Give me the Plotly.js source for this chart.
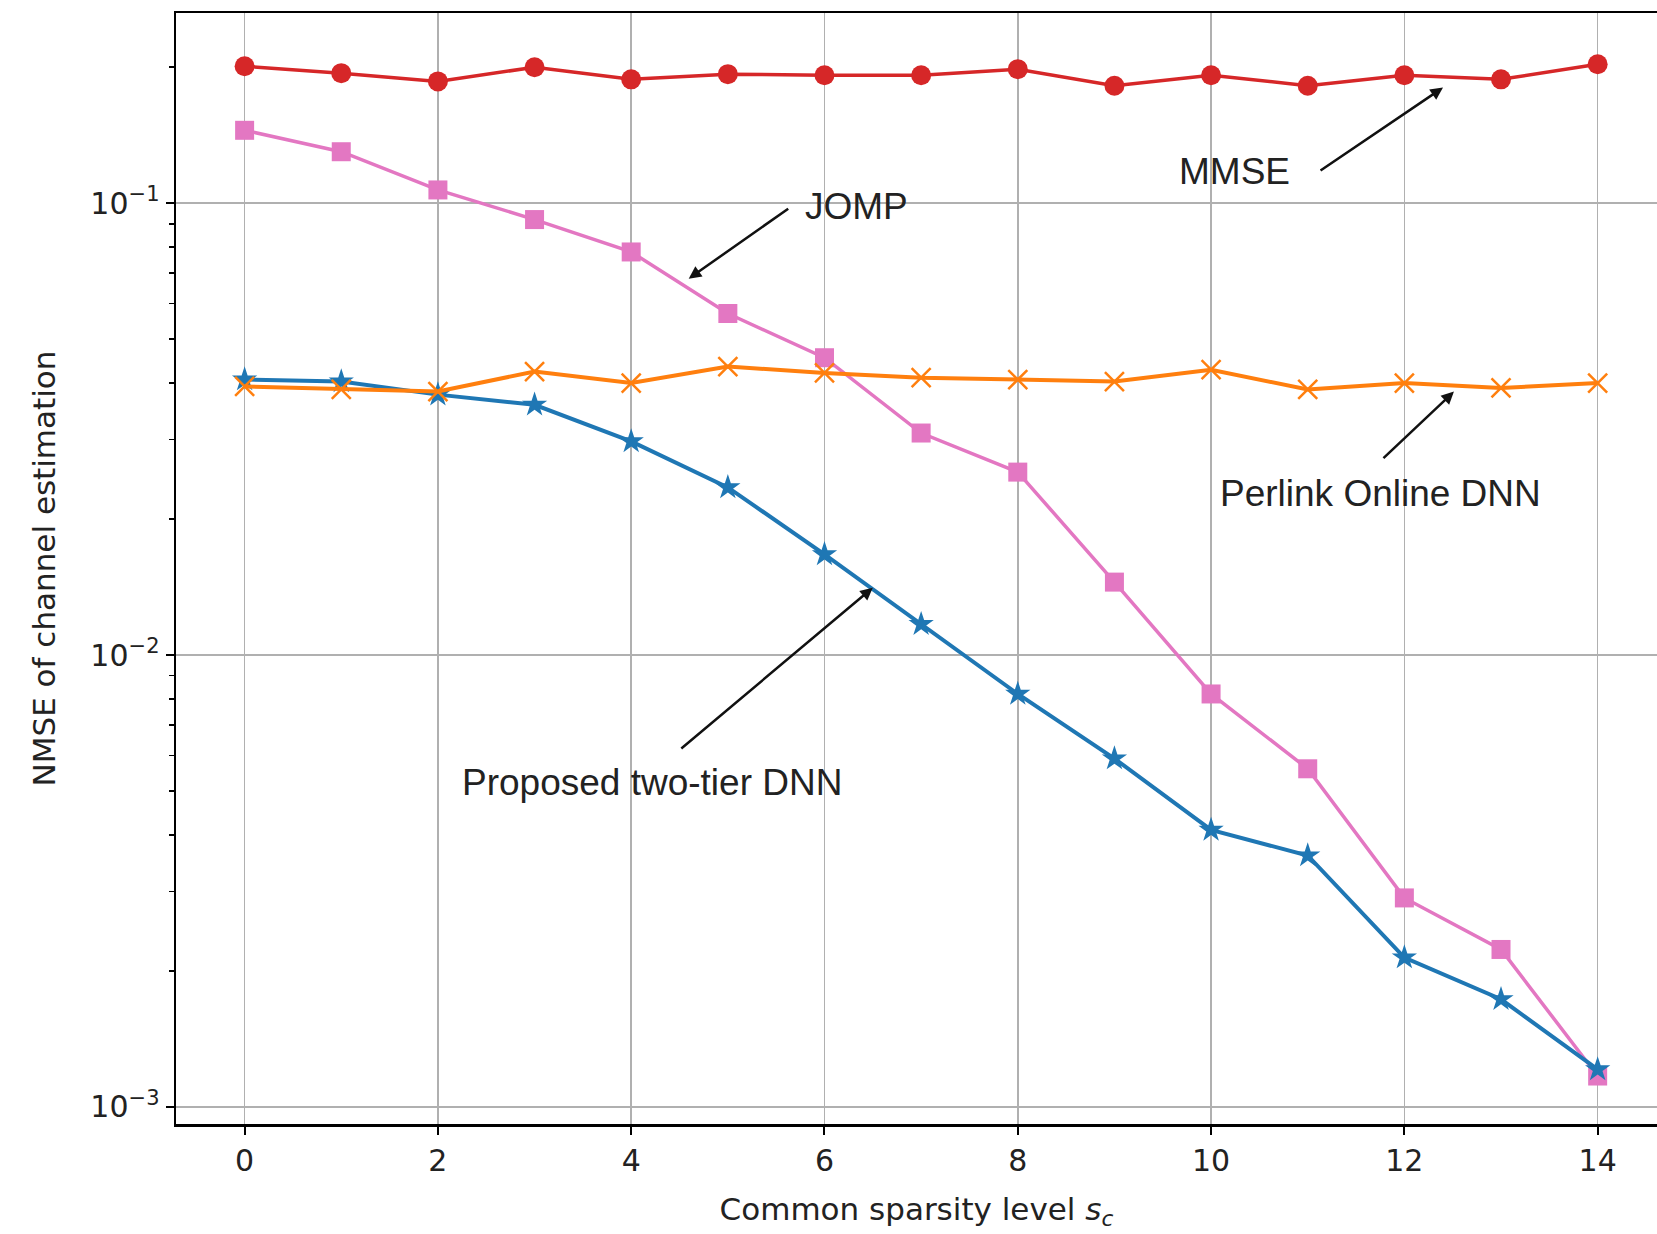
<!DOCTYPE html>
<html><head><meta charset="utf-8">
<script src="https://cdn.plot.ly/plotly-3.0.1.min.js"></script>
<style>html,body{margin:0;padding:0;background:#fff;overflow:hidden}</style>
</head><body><div id="chart" style="width:1657px;height:1234px"></div>
<script>
const sparsity = [0,1,2,3,4,5,6,7,8,9,10,11,12,13,14];
const mmse     = [0.201, 0.194, 0.186, 0.200, 0.188, 0.193, 0.192, 0.192, 0.198, 0.182, 0.192, 0.182, 0.192, 0.188, 0.203];
const jomp     = [0.145, 0.130, 0.107, 0.092, 0.078, 0.057, 0.0455, 0.031, 0.0254, 0.0145, 0.0082, 0.0056, 0.0029, 0.00223, 0.00117];
const perlink  = [0.0393, 0.0387, 0.0383, 0.0424, 0.0400, 0.0435, 0.0421, 0.0411, 0.0407, 0.0403, 0.0428, 0.0387, 0.0400, 0.0390, 0.0400];
const proposed = [0.0407, 0.0403, 0.0377, 0.0358, 0.0297, 0.0235, 0.0167, 0.0117, 0.0082, 0.0059, 0.0041, 0.0036, 0.00214, 0.00173, 0.00121];

const seriesNames = ["MMSE", "JOMP", "Perlink Online DNN", "Proposed two-tier DNN"];
const xTickVals = [0,2,4,6,8,10,12,14];
const yTickVals = [0.1, 0.01, 0.001];
const yTickText = ["10<sup>\u22121</sup>", "10<sup>\u22122</sup>", "10<sup>\u22123</sup>"];
const minorMult = [2,3,4,5,6,7,8,9];
const minorDecades = [0.001, 0.01, 0.1];
const yMinor = [];
minorDecades.forEach(d => minorMult.forEach(m => yMinor.push(m*d)));

const traces = [
  {x: sparsity, y: jomp, name: seriesNames[1], mode: 'lines+markers',
   line: {color: '#e377c2', width: 3.5}, marker: {symbol: 'square', size: 19, color: '#e377c2'}},
  {x: sparsity, y: proposed, name: seriesNames[3], mode: 'lines+markers',
   line: {color: '#1f77b4', width: 4}, marker: {symbol: 'star', size: 19, color: '#1f77b4'}},
  {x: sparsity, y: perlink, name: seriesNames[2], mode: 'lines+markers',
   line: {color: '#ff7f0e', width: 4}, marker: {symbol: 'x-thin-open', size: 19, color: '#ff7f0e', line: {color: '#ff7f0e', width: 2.5}}},
  {x: sparsity, y: mmse, name: seriesNames[0], mode: 'lines+markers',
   line: {color: '#d62728', width: 3.5}, marker: {symbol: 'circle', size: 20, color: '#d62728'}}
];

const annFont = {family: 'Liberation Sans, Arial, sans-serif', size: 37, color: '#222'};
const arrowStyle = {showarrow: true, arrowhead: 2, arrowsize: 1, arrowwidth: 2.5, arrowcolor: '#111', text: '', standoff: 0, xref: 'x', yref: 'y', axref: 'pixel', ayref: 'pixel'};
const annotations = [
  {text: seriesNames[0], x: 10.24, y: -0.930, xref: 'x', yref: 'y', showarrow: false, font: annFont},
  Object.assign({x: 12.40, y: -0.744, ax: -124, ay: 84}, arrowStyle),
  {text: seriesNames[1], x: 6.33, y: -1.008, xref: 'x', yref: 'y', showarrow: false, font: annFont},
  Object.assign({x: 4.595, y: -1.167, ax: 101, ay: -71}, arrowStyle),
  {text: seriesNames[2], x: 11.75, y: -1.643, xref: 'x', yref: 'y', showarrow: false, font: annFont},
  Object.assign({x: 12.513, y: -1.417, ax: -72, ay: 68}, arrowStyle),
  {text: seriesNames[3], x: 4.22, y: -2.283, xref: 'x', yref: 'y', showarrow: false, font: annFont},
  Object.assign({x: 6.50, y: -1.851, ax: -193, ay: 162}, arrowStyle)
];

const tickFont = {family: 'DejaVu Sans, sans-serif', size: 30, color: '#222'};
const layout = {
  width: 1657, height: 1234,
  margin: {l: 176, r: 0, t: 13, b: 110},
  paper_bgcolor: '#fff', plot_bgcolor: '#fff',
  showlegend: false,
  font: {family: 'DejaVu Sans, sans-serif', color: '#222'},
  xaxis: {
    range: [-0.71, 14.614], tickvals: xTickVals, ticks: 'outside', ticklen: 8, tickwidth: 2, tickcolor: '#000',
    showline: true, linecolor: '#000', linewidth: 2.5, mirror: true,
    showgrid: true, gridcolor: '#b0b0b0', gridwidth: 1.5, zeroline: false,
    tickfont: tickFont,
    title: {text: 'Common sparsity level <i>s</i><sub><i>c</i></sub>', font: {family: 'DejaVu Sans, sans-serif', size: 31, color: '#222'}, standoff: 22}
  },
  yaxis: {
    type: 'log', range: [-3.038, -0.579],
    tickvals: yTickVals, ticktext: yTickText, ticks: 'outside', ticklen: 8, tickwidth: 2, tickcolor: '#000',
    minor: {tickvals: yMinor, ticks: 'outside', ticklen: 5, tickwidth: 1.5, tickcolor: '#000', showgrid: false},
    showline: true, linecolor: '#000', linewidth: 2.5, mirror: false,
    showgrid: true, gridcolor: '#b0b0b0', gridwidth: 1.5, zeroline: false,
    tickfont: tickFont,
    title: {text: 'NMSE of channel estimation', font: {family: 'DejaVu Sans, sans-serif', size: 31, color: '#222'}, standoff: 26}
  },
  annotations: annotations
};

Plotly.newPlot('chart', traces, layout, {displayModeBar: false, staticPlot: true});
</script>
</body></html>
